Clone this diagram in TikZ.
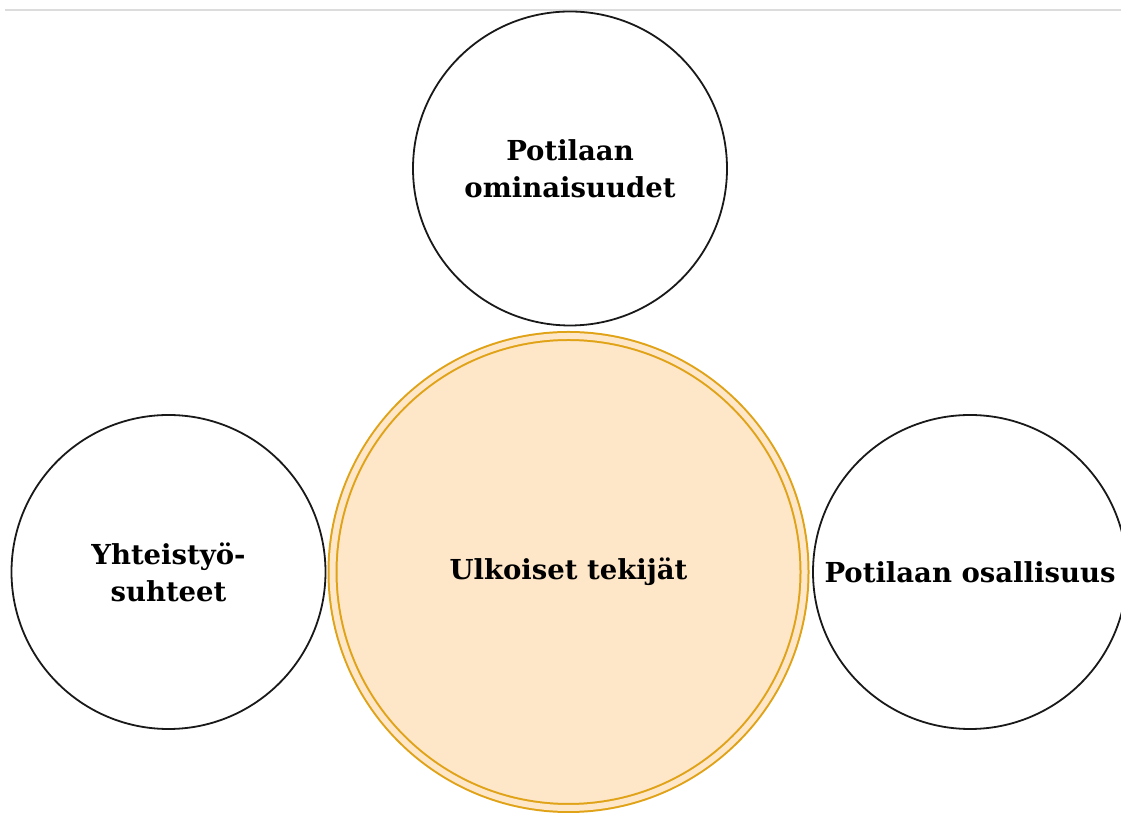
\documentclass[tikz,border=0pt]{standalone}
\usepackage{fontspec}
\setmainfont{DejaVu Serif}
\definecolor{ringgold}{HTML}{E0A216}
\definecolor{peach}{HTML}{FEE6C8}
\definecolor{rulegray}{HTML}{DCDCDC}
\begin{document}
\begin{tikzpicture}[x=1pt,y=1pt,
  lbl/.style={font=\fontsize{27.5}{37}\selectfont\bfseries, align=center, text=black},
  sidecircle/.style={circle, draw=black!90, line width=1.8pt, minimum size=314pt, inner sep=0pt, lbl},
  corecircle/.style={circle, draw=ringgold, line width=2pt, double=peach, double distance=6pt,
    fill=peach, minimum size=472pt, inner sep=0pt, lbl}]
\useasboundingbox (0,0) rectangle (1121,813);
% thin rule along the top
\coordinate (ruleL) at (5,803);
\coordinate (ruleR) at (1121,803);
\draw[rulegray, line width=1.6pt] (ruleL) -- (ruleR);
% central factor and its three neighbours
\node[corecircle] (core) at (568.5,241) {Ulkoiset tekijät};
\node[sidecircle] (top) at (570,644.5) {Potilaan\\ominaisuudet};
\node[sidecircle] (left) at (168.5,241) {Yhteistyö-\\suhteet};
\node[sidecircle] (right) at (970,241) {Potilaan osallisuus};
\end{tikzpicture}
\end{document}
